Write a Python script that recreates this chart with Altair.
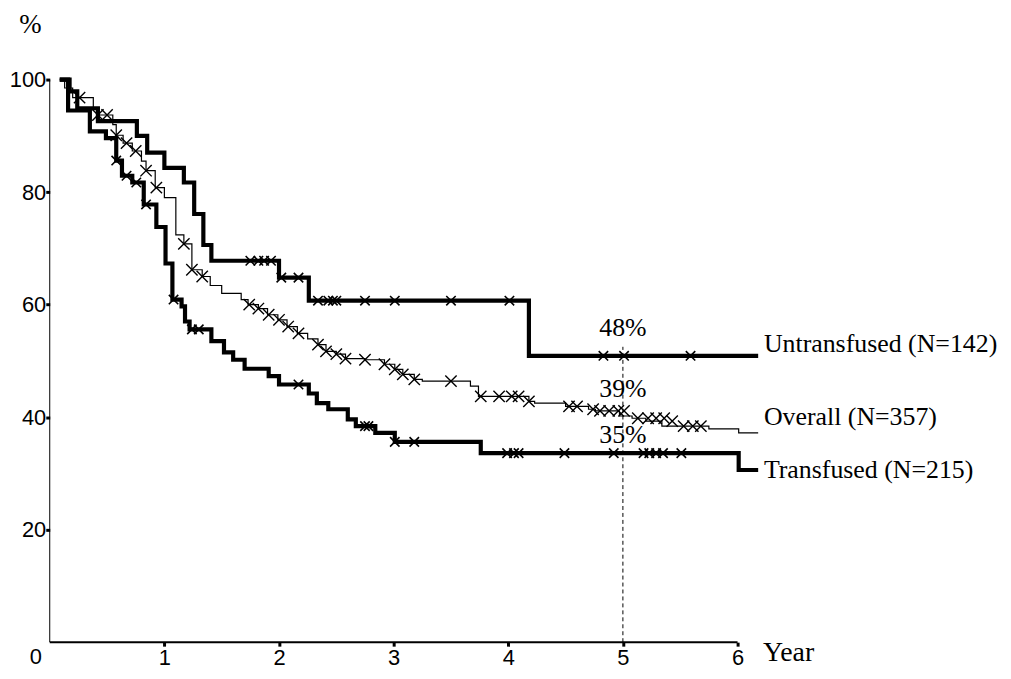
import altair as alt
import pandas as pd

# ---------------- data ----------------
# step curves: time (years) and survival (%)
untr_t = [0.087, 0.173, 0.24, 0.42, 0.76, 0.85, 1.0, 1.17, 1.26, 1.34, 1.41, 2.0, 2.26, 4.18, 6.18]
untr_s = [100, 97.9, 94.9, 92.6, 90.0, 87.0, 84.3, 81.7, 76.1, 70.6, 67.8, 64.8, 60.7, 50.9, 50.9]

trans_t = [0.087, 0.16, 0.35, 0.49, 0.58, 0.63, 0.72, 0.82, 0.93, 1.01, 1.07, 1.15, 1.18, 1.22,
           1.41, 1.52, 1.6, 1.7, 1.91, 2.0, 2.26, 2.33, 2.43, 2.6, 2.67, 2.84, 3.01, 3.76, 6.01, 6.18]
trans_s = [100, 94.5, 90.8, 89.6, 85.6, 82.9, 81.7, 77.8, 73.8, 67.3, 60.9, 59.7, 57.0, 55.6,
           53.5, 51.5, 50.2, 48.6, 47.3, 45.8, 44.2, 42.5, 41.4, 39.6, 38.4, 37.2, 35.6, 33.6, 30.6, 30.6]

all_t = [0.087, 0.13, 0.2, 0.38, 0.43, 0.55, 0.58, 0.64, 0.72, 0.8, 0.84, 0.92, 1.0, 1.1, 1.17,
         1.24, 1.33, 1.4, 1.5, 1.67, 1.73, 1.82, 1.9, 1.99, 2.07, 2.16, 2.25, 2.34, 2.41, 2.5,
         2.58, 2.75, 2.92, 3.01, 3.08, 3.18, 3.25, 3.67, 3.74, 4.18, 4.23, 4.5, 4.7, 4.76, 4.97,
         5.08, 5.2, 5.34, 5.75, 6.01, 6.18]
all_s = [100, 98.5, 96.8, 95.0, 93.7, 92.0, 90.1, 88.7, 87.3, 85.5, 83.8, 80.8, 79.0, 72.4, 70.8,
         66.2, 65.0, 63.4, 62.0, 60.9, 60.0, 59.3, 58.2, 57.3, 56.1, 54.9, 53.9, 52.9, 51.7, 51.2,
         50.4, 50.2, 49.4, 48.5, 47.6, 46.7, 46.4, 45.5, 43.7, 42.8, 42.5, 41.9, 41.4, 41.1, 40.2,
         39.8, 39.3, 38.4, 37.9, 37.2, 37.2]

# censor marks
untr_ct = [1.75, 1.82, 1.87, 1.93, 2.02, 2.17, 2.34, 2.43, 2.47, 2.50, 2.75, 3.01, 3.50, 4.01,
           4.83, 5.01, 5.59]
untr_cs = [67.8, 67.8, 67.8, 67.8, 64.8, 64.8, 60.7, 60.7, 60.7, 60.7, 60.7, 60.7, 60.7, 60.7,
           50.9, 50.9, 50.9]

trans_ct = [0.58, 0.67, 0.755, 0.84, 1.08, 1.24, 1.30, 2.17, 2.75, 2.78, 3.01, 3.18, 3.99, 4.05,
            4.09, 4.49, 4.92, 5.18, 5.23, 5.29, 5.35, 5.51]
trans_cs = [85.6, 82.9, 81.7, 77.8, 60.9, 55.6, 55.6, 45.8, 38.4, 38.4, 35.6, 35.6, 33.6, 33.6,
            33.6, 33.6, 33.6, 33.6, 33.6, 33.6, 33.6, 33.6]

all_ct = [0.26, 0.42, 0.5, 0.58, 0.67, 0.75, 0.84, 0.93, 1.17, 1.24, 1.33, 1.74, 1.82, 1.91, 2.0,
          2.08, 2.17, 2.34, 2.41, 2.5, 2.58, 2.75, 2.92, 3.01, 3.08, 3.18, 3.5, 3.76, 3.92, 4.03,
          4.09, 4.18, 4.53, 4.6, 4.74, 4.8, 4.88, 4.96, 5.01, 5.13, 5.22, 5.29, 5.36, 5.43, 5.53,
          5.61, 5.68]
all_cs = [96.8, 93.7, 93.7, 90.1, 88.7, 87.3, 83.8, 80.8, 70.8, 66.2, 65.0, 60.0, 59.3, 58.2,
          57.3, 56.1, 54.9, 52.9, 51.7, 51.2, 50.4, 50.2, 49.4, 48.5, 47.6, 46.7, 46.4, 43.7,
          43.7, 43.7, 43.7, 42.8, 41.9, 41.9, 41.4, 41.1, 41.1, 41.1, 41.1, 39.8, 39.8, 39.8,
          39.8, 39.3, 38.4, 38.4, 38.4]

# labels
curve_names = ["Untransfused (N=142)", "Overall (N=357)", "Transfused (N=215)"]
curve_label_y = [51.6, 38.6, 29.2]
curve_label_x = 6.23
pct_labels = ["48%", "39%", "35%"]
pct_label_y = [54.4, 43.5, 35.4]
year_mark = 5
x_ticks = [1, 2, 3, 4, 5, 6]
y_ticks = [20, 40, 60, 80, 100]

# ---------------- frames ----------------
def frame(t, s, name):
    return pd.DataFrame({"t": t, "s": s, "g": name})

lines_thick = pd.concat([frame(untr_t, untr_s, "U"), frame(trans_t, trans_s, "T")])
line_thin = frame(all_t, all_s, "O")
marks_thick = pd.concat([frame(untr_ct, untr_cs, "U"), frame(trans_ct, trans_cs, "T")])
marks_thin = frame(all_ct, all_cs, "O")

xs = alt.Scale(domain=[0, 6.2], nice=False, zero=False)
ys = alt.Scale(domain=[0, 100], nice=False)

X = alt.X("t:Q", scale=xs,
          axis=alt.Axis(values=x_ticks, format="d", title="Year", domain=False, grid=False,
                        tickSize=4, tickWidth=3, tickColor="black",
                        labelFont="Liberation Sans", labelFontSize=22, labelColor="black",
                        labelPadding=1,
                        titleFont="Liberation Serif", titleFontSize=28, titleFontWeight="normal",
                        titleColor="black", titleAlign="left", titleBaseline="alphabetic",
                        titleX=717, titleY=18, titleAnchor="start"))
Y = alt.Y("s:Q", scale=ys,
          axis=alt.Axis(values=y_ticks, format="d", title="%", domain=False, grid=False,
                        tickSize=4, tickWidth=3, tickColor="black",
                        labelFont="Liberation Sans", labelFontSize=22, labelColor="black",
                        labelPadding=0,
                        titleFont="Liberation Serif", titleFontSize=27, titleFontWeight="normal",
                        titleColor="black", titleAngle=0, titleAlign="center",
                        titleBaseline="middle", titleX=-20, titleY=-55))

base_axes = alt.Chart(frame([0], [0], "a")).mark_point(opacity=0).encode(x=X, y=Y)

thick = alt.Chart(lines_thick).mark_line(
    interpolate="step-after", color="black", strokeWidth=4.2
).encode(x="t:Q", y="s:Q", detail="g:N")

thin = alt.Chart(line_thin).mark_line(
    interpolate="step-after", color="black", strokeWidth=1.2
).encode(x="t:Q", y="s:Q")

xshape = "M-1,-1L1,1M-1,1L1,-1"
cm_thick = alt.Chart(marks_thick).mark_point(
    shape=xshape, size=90, filled=False, color="black", strokeWidth=1.6, opacity=1
).encode(x="t:Q", y="s:Q")
cm_thin = alt.Chart(marks_thin).mark_point(
    shape=xshape, size=130, filled=False, color="black", strokeWidth=1.4, opacity=1
).encode(x="t:Q", y="s:Q")

# axis lines
xaxis_df = pd.DataFrame({"x": [0], "x2": [x_ticks[-1]], "y": [0]})
xaxis = alt.Chart(xaxis_df).mark_rule(color="black", strokeWidth=2).encode(
    x="x:Q", x2="x2:Q", y="y:Q")
yaxis_df = pd.DataFrame({"x": [0], "y": [0], "y2": [y_ticks[-1]]})
yaxis = alt.Chart(yaxis_df).mark_rule(color="black", strokeWidth=1).encode(
    x="x:Q", y="y:Q", y2="y2:Q")

# dashed vertical at year 5
vdf = pd.DataFrame({"x": [year_mark], "y": [0], "y2": [52.5]})
vline = alt.Chart(vdf).mark_rule(color="black", strokeWidth=1, strokeDash=[4, 3]).encode(
    x="x:Q", y="y:Q", y2="y2:Q")

# origin "0"
zdf = pd.DataFrame({"x": [0], "y": [0], "txt": ["0"]})
zero_lbl = alt.Chart(zdf).mark_text(
    font="Liberation Sans", fontSize=22, color="black", align="center",
    baseline="middle", dx=-14, dy=15
).encode(x="x:Q", y="y:Q", text="txt:N")

# curve labels
cl_df = pd.DataFrame({"x": [curve_label_x] * 3, "y": curve_label_y, "txt": curve_names})
curve_lbl = alt.Chart(cl_df).mark_text(
    font="Liberation Serif", fontSize=26, color="black", align="left", baseline="alphabetic"
).encode(x="x:Q", y="y:Q", text="txt:N")

pl_df = pd.DataFrame({"x": [year_mark] * 3, "y": pct_label_y, "txt": pct_labels})
pct_lbl = alt.Chart(pl_df).mark_text(
    font="Liberation Serif", fontSize=26, color="black", align="center", baseline="alphabetic"
).encode(x="x:Q", y="y:Q", text="txt:N")

chart = alt.layer(
    base_axes, vline, thin, cm_thin, thick, cm_thick, xaxis, yaxis, zero_lbl, curve_lbl, pct_lbl
).properties(
    width=715, height=566,
    autosize=alt.AutoSizeParams(type="none"),
    padding={"left": 42, "top": 70, "right": 244, "bottom": 26},
    background="white",
).configure_view(stroke=None).configure_axis(labelOverlap=False)

chart.save("out.html", embed_options={"renderer": "svg", "actions": False})
